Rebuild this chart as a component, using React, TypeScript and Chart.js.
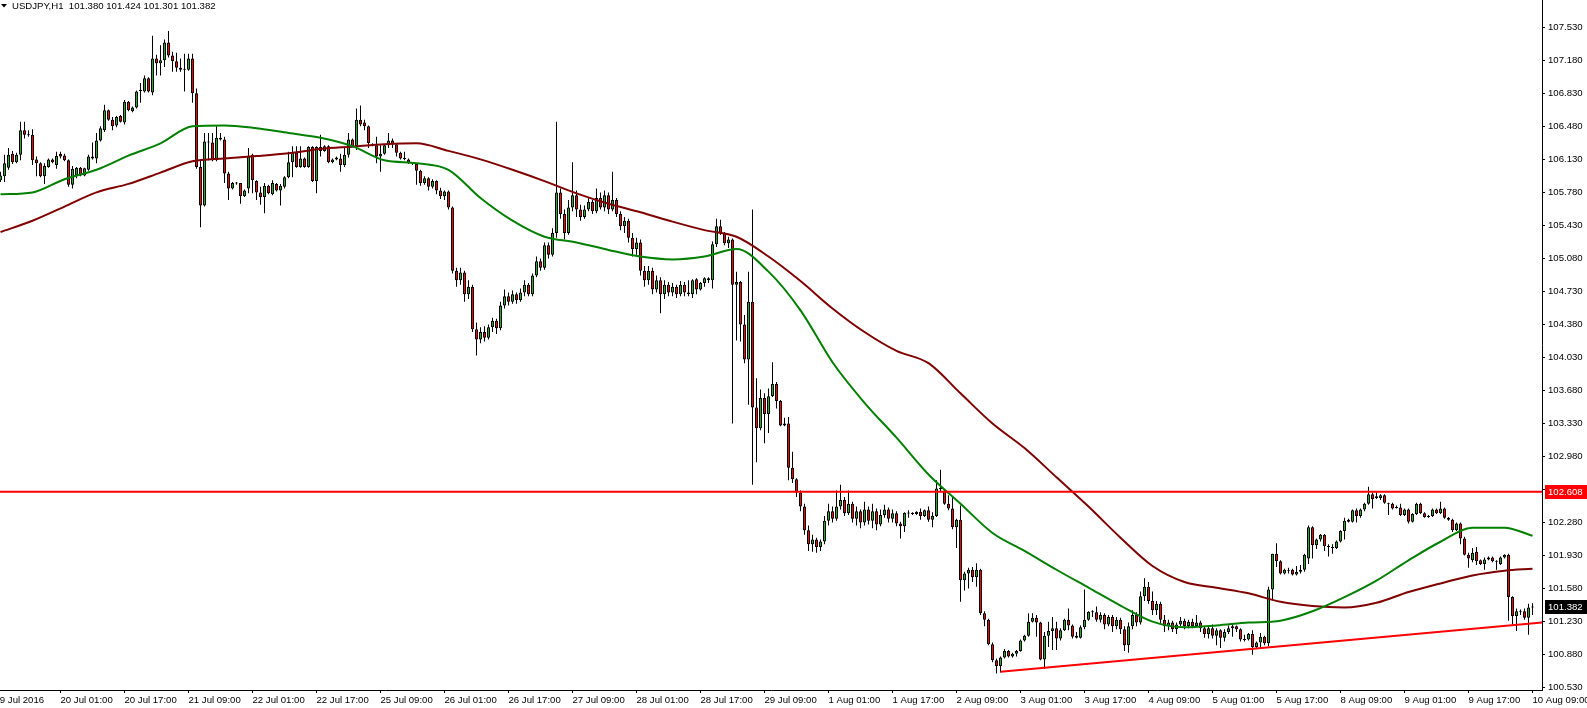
import React, { useEffect, useRef } from "react";
import { Chart, registerables } from "chart.js";

Chart.register(...registerables);

// ---------- data ----------
const symbolTitle = "USDJPY,H1";
const lastQuote = [101.38, 101.424, 101.301, 101.382];

const opens = [
  105.91,105.95,106.04,106.19,106.10,106.18,106.44,106.39,106.39,106.13,
  106.09,105.95,106.05,106.13,106.07,106.19,106.17,106.12,105.86,105.96,
  106.04,105.96,106.02,106.16,106.14,106.33,106.44,106.65,106.55,106.49,
  106.59,106.52,106.74,106.64,106.68,106.86,106.85,106.99,106.84,107.20,
  107.15,107.18,107.37,107.23,107.17,107.10,107.085,107.08,107.20,106.83,
  106.05,105.64,106.32,106.31,106.12,106.36,106.34,105.98,105.82,105.88,
  105.88,105.74,105.82,106.18,105.90,105.78,105.73,105.85,105.76,105.87,
  105.80,105.84,105.94,106.10,106.20,106.05,106.14,106.05,106.26,105.90,
  106.26,106.22,106.27,106.10,106.15,106.14,106.07,106.18,106.34,106.27,
  106.55,106.52,106.48,106.29,106.28,106.16,106.19,106.28,106.33,106.29,
  106.20,106.14,106.13,106.09,106.08,
  106.01,105.88,105.93,105.84,105.90,105.80,105.74,105.79,105.62,104.95,
  104.85,104.93,104.70,104.78,104.33,104.22,104.30,104.24,104.35,104.42,
  104.34,104.58,104.68,104.62,104.70,104.64,104.72,104.80,104.70,104.90,
  105.05,104.98,105.22,105.12,105.35,105.78,105.55,105.35,105.62,105.75,
  105.60,105.52,105.60,105.68,105.58,105.72,105.62,105.75,105.60,105.70,
  105.55,105.42,105.48,105.30,105.18,105.25,104.95,104.85,104.95,104.75,
  104.85,104.70,104.80,104.72,104.78,104.70,104.80,104.72,
  104.70,104.86,104.75,104.82,104.87,104.85,105.23,105.42,105.35,105.24,
  105.28,104.80,104.83,104.38,104.01,104.62,103.50,103.28,103.60,103.43,
  103.62,103.75,103.57,103.31,103.33,102.86,102.74,
  102.60,102.45,102.20,102.05,102.10,102.02,102.08,102.30,102.40,102.32,
  102.45,102.52,102.38,102.48,102.32,102.40,102.28,102.42,102.30,102.40,
  102.26,102.36,102.42,102.32,102.38,
  102.27,102.24,102.38,102.37,102.395,102.395,102.35,102.41,102.31,102.35,
  102.64,102.62,102.48,102.43,102.23,102.31,101.67,101.74,101.78,101.70,
  101.78,101.32,101.25,100.99,100.82,100.76,100.85,100.92,100.86,100.89,
  100.92,101.03,101.08,101.23,101.27,101.22,100.83,101.08,101.13,101.16,
  101.05,101.14,101.25,101.19,101.08,101.06,101.17,101.25,101.335,101.33,
  101.25,101.30,101.20,101.28,101.18,101.25,101.15,100.98,101.18,101.30,
  101.22,101.50,101.60,101.45,101.35,101.42,101.25,101.18,101.22,101.15,
  101.20,101.24,101.18,101.23,101.18,101.22,101.16,101.10,101.16,101.08,
  101.14,101.06,101.12,
  101.16,101.18,101.15,101.04,101.04,101.10,100.96,101.01,101.07,101.00,
  101.57,101.95,101.87,101.74,101.77,101.78,101.73,101.76,101.78,101.90,
  102.23,102.04,102.10,102.15,102.03,102.01,102.01,102.08,102.19,102.29,
  102.29,102.41,102.35,102.42,102.48,102.58,102.56,102.54,102.57,102.48,
  102.48,102.44,102.44,102.36,102.42,102.29,102.37,102.48,102.38,102.34,
  102.35,102.42,102.38,102.43,102.33,102.31,102.20,102.27,102.11,101.94,
  101.88,101.97,101.88,101.84,101.89,101.91,101.87,101.84,101.91,101.94,
  101.49,101.29,101.34,101.34,101.27,101.38,
];

const highs = [
  106.00,106.18,106.25,106.22,106.20,106.53,106.53,106.44,106.45,106.16,
  106.10,106.09,106.14,106.14,106.21,106.21,106.19,106.13,106.06,106.05,
  106.05,106.04,106.18,106.31,106.41,106.48,106.71,106.66,106.58,106.59,
  106.60,106.76,106.75,106.69,106.86,106.94,107.02,107.00,107.44,107.24,
  107.34,107.40,107.49,107.27,107.26,107.20,107.25,107.25,107.25,106.88,
  106.12,106.41,106.41,106.41,106.48,106.41,106.37,106.00,105.89,105.89,
  105.88,105.81,106.25,106.19,105.91,105.84,105.88,105.86,105.91,105.88,
  105.87,105.95,106.21,106.27,106.27,106.27,106.15,106.27,106.27,106.27,
  106.39,106.28,106.28,106.14,106.16,106.19,106.25,106.41,106.35,106.67,
  106.70,106.55,106.49,106.30,106.37,106.28,106.29,106.41,106.35,106.30,
  106.21,106.21,106.14,106.10,106.09,
  106.02,105.95,105.94,105.92,105.91,105.83,105.80,105.80,105.63,104.98,
  104.98,104.95,104.85,104.80,104.40,104.35,104.36,104.38,104.45,104.44,
  104.62,104.75,104.72,104.74,104.72,104.76,104.85,104.82,104.92,105.10,
  105.08,105.25,105.25,105.40,106.53,105.82,105.60,105.70,106.10,105.80,
  105.65,105.64,105.72,105.70,105.82,105.78,105.80,105.78,106.00,105.72,
  105.58,105.52,105.50,105.35,105.30,105.28,105.00,105.00,104.98,104.90,
  104.88,104.85,104.83,104.82,104.80,104.84,104.83,104.85,
  104.86,104.87,104.83,104.88,104.88,105.26,105.50,105.49,105.36,105.31,
  105.29,104.94,104.84,104.48,104.94,105.60,103.81,103.69,103.65,103.70,
  103.98,103.77,103.58,103.39,103.40,103.03,102.75,
  102.62,102.48,102.25,102.15,102.12,102.10,102.35,102.48,102.45,102.62,
  102.68,102.55,102.62,102.50,102.45,102.42,102.50,102.45,102.48,102.43,
  102.42,102.47,102.44,102.42,102.40,
  102.29,102.39,102.41,102.39,102.40,102.43,102.42,102.45,102.39,102.73,
  102.84,102.63,102.57,102.55,102.32,102.46,101.76,101.80,101.81,101.85,
  101.79,101.34,101.26,101.01,100.84,100.86,100.94,100.93,100.90,100.93,
  101.04,101.09,101.32,101.32,101.30,101.23,101.12,101.23,101.28,101.23,
  101.16,101.26,101.37,101.20,101.12,101.19,101.57,101.34,101.35,101.39,
  101.33,101.32,101.30,101.30,101.28,101.27,101.18,101.22,101.35,101.33,
  101.55,101.69,101.65,101.55,101.45,101.44,101.30,101.25,101.24,101.22,
  101.28,101.26,101.25,101.26,101.30,101.24,101.18,101.18,101.20,101.16,
  101.15,101.15,101.19,
  101.21,101.19,101.16,101.09,101.11,101.14,101.02,101.11,101.08,101.60,
  101.95,102.06,101.88,101.79,101.80,101.79,101.82,101.83,101.95,102.25,
  102.24,102.11,102.16,102.16,102.05,102.05,102.09,102.20,102.33,102.32,
  102.42,102.43,102.43,102.49,102.66,102.60,102.60,102.58,102.58,102.49,
  102.49,102.46,102.48,102.43,102.43,102.38,102.49,102.49,102.39,102.36,
  102.43,102.43,102.50,102.44,102.34,102.32,102.28,102.28,102.13,101.96,
  102.01,102.02,101.89,101.91,101.92,101.92,101.88,101.92,101.945,101.95,
  101.50,101.37,101.36,101.37,101.42,101.424,
];

const lows = [
  105.89,105.89,106.02,106.08,106.09,106.12,106.35,106.37,106.07,105.95,
  105.94,105.87,106.04,106.09,106.03,106.14,106.11,105.84,105.82,105.93,
  105.95,105.95,106.01,106.13,106.09,106.32,106.42,106.54,106.44,106.47,
  106.52,106.50,106.64,106.63,106.67,106.73,106.84,106.84,106.81,107.02,
  107.02,107.11,107.21,107.06,107.06,107.06,106.85,107.07,106.73,106.03,
  105.41,105.63,106.12,106.11,106.11,106.33,105.88,105.70,105.81,105.86,
  105.66,105.73,105.77,105.77,105.70,105.65,105.56,105.76,105.75,105.79,
  105.64,105.82,105.93,105.94,106.04,106.04,106.04,106.04,105.89,105.77,
  106.16,106.21,106.09,106.09,106.12,106.00,106.05,106.15,106.26,106.23,
  106.48,106.44,106.25,106.27,106.09,106.00,106.18,106.25,106.25,106.16,
  106.13,106.12,106.08,106.07,105.86,
  105.85,105.86,105.80,105.82,105.76,105.71,105.70,105.60,104.92,104.78,
  104.80,104.62,104.65,104.30,104.05,104.18,104.20,104.22,104.30,104.28,
  104.32,104.55,104.58,104.60,104.60,104.62,104.68,104.68,104.68,104.88,
  104.95,104.96,105.08,105.10,105.30,105.50,105.28,105.33,105.58,105.52,
  105.48,105.50,105.58,105.55,105.56,105.60,105.58,105.55,105.58,105.52,
  105.38,105.35,105.25,105.10,105.12,104.90,104.78,104.80,104.70,104.72,
  104.50,104.65,104.68,104.68,104.66,104.68,104.68,104.68,
  104.66,104.70,104.74,104.78,104.82,104.76,105.20,105.33,105.22,105.19,
  103.33,104.21,104.20,103.97,103.53,102.68,102.92,103.26,103.12,103.23,
  103.61,103.49,103.30,103.30,102.73,102.70,102.55,
  102.40,102.15,101.98,101.97,101.96,101.98,102.05,102.25,102.28,102.30,
  102.42,102.35,102.36,102.28,102.25,102.22,102.25,102.26,102.22,102.20,
  102.24,102.33,102.28,102.28,102.24,
  102.11,102.18,102.33,102.36,102.36,102.31,102.34,102.29,102.23,102.34,
  102.61,102.47,102.41,102.21,102.01,101.44,101.56,101.58,101.65,101.60,
  101.30,101.18,100.98,100.80,100.68,100.69,100.84,100.85,100.85,100.86,
  100.91,101.02,101.07,101.22,101.07,100.82,100.73,100.96,100.93,100.93,
  101.03,101.13,101.14,101.05,101.05,101.05,101.15,101.24,101.28,101.23,
  101.22,101.15,101.18,101.12,101.15,101.10,100.92,100.90,101.15,101.18,
  101.20,101.45,101.42,101.30,101.30,101.20,101.12,101.14,101.12,101.10,
  101.18,101.15,101.16,101.16,101.17,101.12,101.06,101.05,101.05,100.98,
  100.95,101.02,101.10,
  101.07,101.12,101.02,101.02,101.03,100.88,100.95,100.95,100.98,100.97,
  101.46,101.81,101.73,101.73,101.74,101.72,101.72,101.74,101.76,101.84,
  101.90,102.00,102.08,101.98,101.92,101.95,102.00,102.07,102.10,102.28,
  102.28,102.28,102.33,102.40,102.47,102.43,102.53,102.52,102.48,102.36,
  102.42,102.43,102.35,102.35,102.27,102.28,102.36,102.37,102.33,102.33,
  102.34,102.37,102.37,102.32,102.30,102.18,102.19,102.05,101.93,101.80,
  101.86,101.83,101.83,101.78,101.88,101.86,101.78,101.83,101.90,101.24,
  101.20,101.13,101.30,101.25,101.09,101.301,
];

const closes = [
  105.96,106.09,106.18,106.10,106.18,106.44,106.39,106.385,106.12,106.09,
  105.95,106.06,106.13,106.10,106.165,106.16,106.12,105.86,106.03,106.04,
  105.96,106.035,106.16,106.14,106.33,106.46,106.65,106.55,106.48,106.58,
  106.53,106.74,106.65,106.68,106.85,106.855,106.99,106.85,107.20,107.15,
  107.18,107.37,107.23,107.17,107.10,107.08,107.08,107.20,106.83,106.05,
  105.64,106.32,106.31,106.12,106.36,106.34,105.98,105.82,105.88,105.875,
  105.74,105.80,106.165,105.91,105.78,105.73,105.85,105.77,105.88,105.80,
  105.85,105.94,106.10,106.20,106.05,106.14,106.05,106.26,105.90,106.26,
  106.22,106.27,106.10,106.13,106.13,106.07,106.18,106.34,106.27,106.55,
  106.50,106.48,106.30,106.28,106.16,106.19,106.28,106.33,106.29,106.20,
  106.14,106.135,106.09,106.085,106.01,
  105.88,105.93,105.84,105.90,105.80,105.74,105.79,105.62,104.95,104.85,
  104.93,104.70,104.78,104.33,104.22,104.30,104.24,104.35,104.42,104.34,
  104.58,104.68,104.62,104.70,104.64,104.72,104.80,104.70,104.90,105.05,
  104.98,105.22,105.12,105.35,105.78,105.55,105.35,105.62,105.75,105.60,
  105.52,105.60,105.68,105.58,105.72,105.62,105.75,105.60,105.70,105.55,
  105.42,105.48,105.30,105.18,105.25,104.95,104.85,104.95,104.75,104.85,
  104.70,104.80,104.72,104.78,104.70,104.80,104.72,104.70,
  104.85,104.75,104.82,104.87,104.85,105.23,105.42,105.35,105.24,105.28,
  104.80,104.83,104.38,104.01,104.62,103.50,103.28,103.60,103.43,103.62,
  103.75,103.57,103.31,103.33,102.86,102.74,102.60,
  102.45,102.20,102.05,102.10,102.02,102.08,102.30,102.40,102.32,102.45,
  102.52,102.38,102.48,102.32,102.40,102.28,102.42,102.30,102.40,102.26,
  102.36,102.42,102.32,102.38,102.27,
  102.24,102.385,102.375,102.385,102.37,102.35,102.41,102.31,102.35,102.64,
  102.635,102.48,102.43,102.23,102.31,101.67,101.74,101.78,101.70,101.78,
  101.32,101.25,100.99,100.82,100.76,100.85,100.92,100.86,100.89,100.92,
  101.03,101.08,101.23,101.27,101.22,100.83,101.08,101.13,101.16,101.05,
  101.14,101.25,101.19,101.07,101.06,101.17,101.25,101.335,101.33,101.25,
  101.30,101.20,101.28,101.18,101.25,101.15,100.98,101.18,101.30,101.22,
  101.50,101.60,101.45,101.35,101.42,101.25,101.18,101.22,101.15,101.20,
  101.24,101.18,101.23,101.18,101.22,101.16,101.10,101.16,101.08,101.14,
  101.06,101.12,101.16,
  101.18,101.15,101.04,101.035,101.10,100.96,101.01,101.07,101.00,101.57,
  101.95,101.87,101.74,101.78,101.77,101.73,101.76,101.78,101.94,102.23,
  102.04,102.10,102.15,102.03,102.02,102.01,102.08,102.19,102.30,102.31,
  102.41,102.35,102.42,102.48,102.58,102.53,102.54,102.57,102.49,102.475,
  102.43,102.435,102.36,102.42,102.29,102.37,102.48,102.38,102.34,102.35,
  102.42,102.38,102.43,102.33,102.31,102.20,102.27,102.11,101.94,101.90,
  101.96,101.87,101.84,101.89,101.91,101.87,101.865,101.91,101.94,101.49,
  101.29,101.34,101.335,101.27,101.38,101.382,
];

// moving averages, read every 8 bars (bar index -> value)
const maBars = [
  0, 8, 16, 24, 32, 40, 48, 56, 64, 72, 80, 88, 96, 104, 112, 120, 128, 136,
  144, 152, 160, 168, 176, 184, 192, 200, 208, 216, 224, 232, 240, 248, 256,
  264, 272, 280, 288, 296, 304, 312, 320, 328, 336, 344, 352, 360, 368, 376, 383,
];
const maFast = [
  105.76, 105.78, 105.92, 106.02, 106.17, 106.30, 106.48, 106.49, 106.46, 106.41,
  106.36, 106.27, 106.12, 106.09, 106.02, 105.72, 105.48, 105.31, 105.25, 105.17,
  105.10, 105.07, 105.10, 105.18, 104.94, 104.53, 103.98, 103.55, 103.18, 102.79,
  102.48, 102.17, 101.98, 101.78, 101.59, 101.40, 101.23, 101.17, 101.19, 101.22,
  101.24, 101.34, 101.49, 101.665, 101.88, 102.077, 102.225, 102.225, 102.14,
];
const maSlow = [
  105.36, 105.48, 105.63, 105.78, 105.87, 105.99, 106.11, 106.14, 106.165, 106.195,
  106.24, 106.265, 106.29, 106.30, 106.22, 106.13, 106.02, 105.90, 105.77, 105.66,
  105.57, 105.47, 105.38, 105.31, 105.10, 104.84, 104.55, 104.30, 104.10, 103.97,
  103.65, 103.33, 103.07, 102.76, 102.45, 102.12, 101.82, 101.65, 101.59, 101.53,
  101.44, 101.395, 101.38, 101.43, 101.545, 101.635, 101.72, 101.77, 101.79,
];

const levelPrice = 102.608;
const trendBars = [250, 385.4];
const trendPrices = [100.70, 101.22];

const timeTickBars = [
  -1.5, 15, 31, 47, 63, 79, 95, 111, 127, 143, 159, 175, 191, 207, 223, 239,
  255, 271, 287, 303, 319, 335, 351, 367, 383,
];
const timeTickLabels = [
  "19 Jul 2016", "20 Jul 01:00", "20 Jul 17:00", "21 Jul 09:00", "22 Jul 01:00",
  "22 Jul 17:00", "25 Jul 09:00", "26 Jul 01:00", "26 Jul 17:00", "27 Jul 09:00",
  "28 Jul 01:00", "28 Jul 17:00", "29 Jul 09:00", "1 Aug 01:00", "1 Aug 17:00",
  "2 Aug 09:00", "3 Aug 01:00", "3 Aug 17:00", "4 Aug 09:00", "5 Aug 01:00",
  "5 Aug 17:00", "8 Aug 09:00", "9 Aug 01:00", "9 Aug 17:00", "10 Aug 09:00",
];
const priceTicks = [
  107.53, 107.18, 106.83, 106.48, 106.13, 105.78, 105.43, 105.08, 104.73, 104.38,
  104.03, 103.68, 103.33, 102.98, 102.63, 102.28, 101.93, 101.58, 101.23, 100.88, 100.53,
];

// ---------- layout / style ----------
const X_MIN = -0.125;
const X_MAX = 385.375;
const Y_MIN = 100.5054;
const Y_MAX = 107.8194;
const UP = "#22b022";
const DOWN = "#ff0000";
const FONT_FAMILY = "'Liberation Sans', Arial, sans-serif";
const FONT_SIZE = 9.6;

export default function App() {
  const ref = useRef<HTMLCanvasElement | null>(null);

  useEffect(() => {
    document.body.style.margin = "0";
    const canvas = ref.current;
    if (!canvas) return;
    const n = Math.min(opens.length, highs.length, lows.length, closes.length);
    const idx = Array.from({ length: n }, (_, i) => i);
    const wickData = idx.map((i) => ({ x: i, y: [lows[i], highs[i]] }));
    const bodyData = idx.map((i) => ({ x: i, y: [opens[i], closes[i]] }));
    const bodyColors = idx.map((i) => (closes[i] >= opens[i] ? UP : DOWN));

    const overlay = {
      id: "mt4overlay",
      afterDraw(chart: any) {
        const ctx = chart.ctx as CanvasRenderingContext2D;
        const area = chart.chartArea;
        const ys = chart.scales.y;
        ctx.save();
        ctx.fillStyle = "#000";
        ctx.beginPath();
        ctx.moveTo(1, 4);
        ctx.lineTo(7, 4);
        ctx.lineTo(4, 7.5);
        ctx.closePath();
        ctx.fill();
        ctx.font = `${FONT_SIZE}px ${FONT_FAMILY}`;
        ctx.textAlign = "left";
        ctx.textBaseline = "alphabetic";
        ctx.fillText(`${symbolTitle}  ${lastQuote.map((v) => v.toFixed(3)).join(" ")}`, 12, 9);
        const box = (value: number, bg: string) => {
          const y = Math.round(ys.getPixelForValue(value));
          ctx.fillStyle = bg;
          ctx.fillRect(area.right + 3, y - 7, 42, 14);
          ctx.fillStyle = "#fff";
          ctx.textBaseline = "middle";
          ctx.fillText(value.toFixed(3), area.right + 6, y + 0.5);
        };
        box(levelPrice, "#ff0000");
        box(closes[n - 1], "#000000");
        ctx.restore();
      },
    };

    const lineBase = {
      type: "line" as const,
      pointRadius: 0,
      borderWidth: 2,
      tension: 0,
      fill: false,
    };
    const smoothLine = { ...lineBase, cubicInterpolationMode: "monotone" as const };

    const chart = new Chart(canvas, {
      type: "bar",
      data: {
        datasets: [
          {
            ...lineBase,
            label: "trend",
            data: trendBars.map((b, k) => ({ x: b, y: trendPrices[k] })),
            borderColor: "#ff0000",
            order: 0,
          } as any,
          {
            ...lineBase,
            label: "level",
            data: [
              { x: X_MIN, y: levelPrice },
              { x: X_MAX, y: levelPrice },
            ],
            borderColor: "#ff0000",
            order: 1,
          } as any,
          {
            ...smoothLine,
            label: "MA fast",
            data: maBars.map((b, k) => ({ x: b, y: maFast[k] })),
            borderColor: "#008000",
            order: 2,
          } as any,
          {
            ...smoothLine,
            label: "MA slow",
            data: maBars.map((b, k) => ({ x: b, y: maSlow[k] })),
            borderColor: "#800000",
            order: 3,
          } as any,
          {
            type: "bar",
            label: "bodies",
            data: bodyData as any,
            backgroundColor: bodyColors,
            borderColor: "#000",
            borderWidth: 1,
            borderSkipped: false,
            barThickness: 3,
            minBarLength: 1,
            inflateAmount: 0,
            grouped: false,
            order: 4,
          } as any,
          {
            type: "bar",
            label: "wicks",
            data: wickData as any,
            backgroundColor: "#000",
            borderWidth: 0,
            barThickness: 1,
            inflateAmount: 0,
            grouped: false,
            order: 5,
          } as any,
        ],
      },
      options: {
        animation: false,
        responsive: false,
        events: [],
        layout: { padding: 0 },
        plugins: {
          legend: { display: false },
          tooltip: { enabled: false },
          title: { display: false },
        },
        scales: {
          x: {
            type: "linear",
            min: X_MIN,
            max: X_MAX,
            offset: false,
            grid: {
              drawOnChartArea: false,
              drawTicks: true,
              tickLength: 3,
              tickColor: "#000",
              color: "#000",
              offset: false,
            },
            border: { display: true, color: "#000", width: 1 },
            ticks: {
              autoSkip: false,
              maxRotation: 0,
              minRotation: 0,
              align: "start",
              padding: 2,
              color: "#000",
              font: { family: FONT_FAMILY, size: FONT_SIZE },
              callback: (_v: any, i: number) => timeTickLabels[i],
            },
            afterBuildTicks: (s: any) => {
              s.ticks = timeTickBars.map((v) => ({ value: v }));
            },
            afterFit: (s: any) => {
              s.height = 18;
              s.paddingLeft = 0;
              s.paddingRight = 0;
            },
          } as any,
          y: {
            type: "linear",
            position: "right",
            min: Y_MIN,
            max: Y_MAX,
            grid: {
              drawOnChartArea: false,
              drawTicks: true,
              tickLength: 3,
              tickColor: "#000",
              color: "#000",
            },
            border: { display: true, color: "#000", width: 1 },
            ticks: {
              padding: 3,
              color: "#000",
              font: { family: FONT_FAMILY, size: FONT_SIZE },
              callback: (v: any) => Number(v).toFixed(3),
            },
            afterBuildTicks: (s: any) => {
              s.ticks = priceTicks.map((v) => ({ value: v }));
            },
            afterFit: (s: any) => {
              s.width = 45;
              s.paddingTop = 0;
              s.paddingBottom = 0;
            },
          } as any,
        },
      },
      plugins: [overlay as any],
    });

    return () => chart.destroy();
  }, []);

  return (
    <div style={{ width: 1587, height: 708, position: "relative", background: "#fff" }}>
      <canvas ref={ref} width={1587} height={708} style={{ display: "block" }} />
    </div>
  );
}
